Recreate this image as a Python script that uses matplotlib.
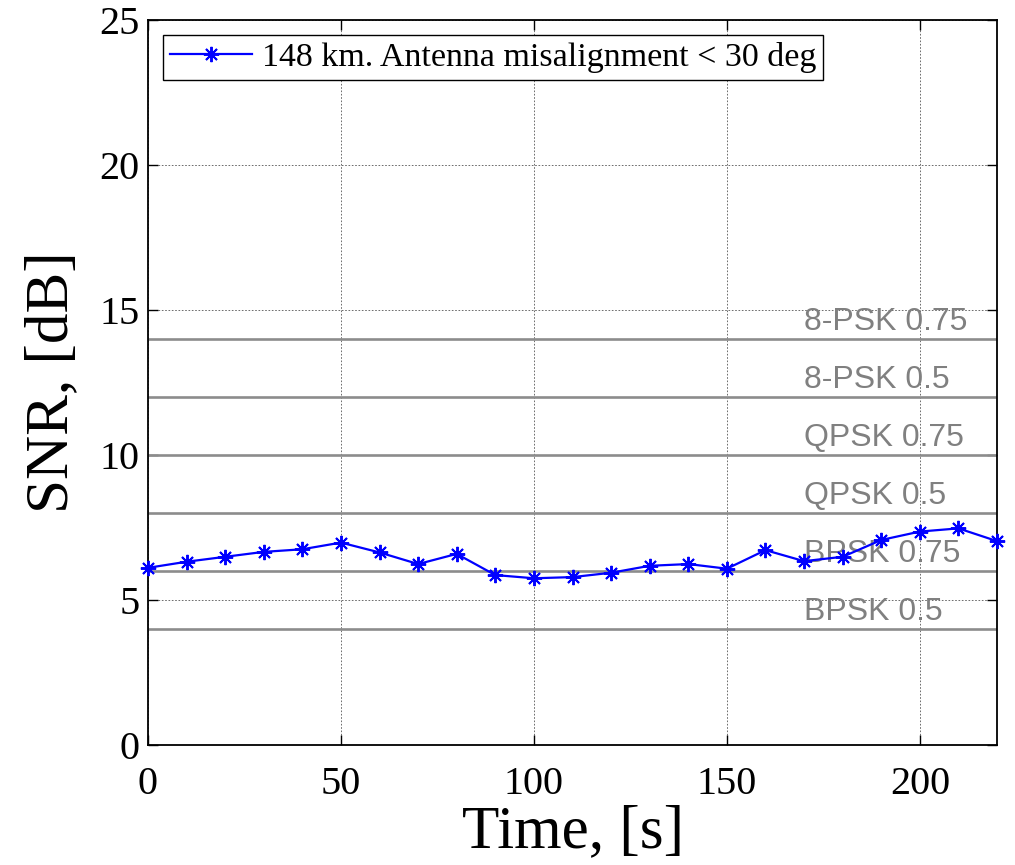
import matplotlib
matplotlib.use("Agg")
import matplotlib.pyplot as plt

# SNR measurements over time
time_s = [0, 10, 20, 30, 40, 50, 60, 70, 80, 90, 100, 110,
          120, 130, 140, 150, 160, 170, 180, 190, 200, 210, 220]
snr_db = [6.11, 6.32, 6.49, 6.66, 6.75, 6.98, 6.64, 6.24, 6.59, 5.86, 5.75, 5.79,
          5.94, 6.18, 6.24, 6.08, 6.72, 6.34, 6.49, 7.07, 7.36, 7.47, 7.03]

# Modulation/coding thresholds
mod_names = ["BPSK 0.5", "BPSK 0.75", "QPSK 0.5", "QPSK 0.75", "8-PSK 0.5", "8-PSK 0.75"]
mod_thresholds = [4, 6, 8, 10, 12, 14]

series_label = "148 km. Antenna misalignment < 30 deg"

serif = ["Liberation Serif", "DejaVu Serif"]

fig = plt.figure(figsize=(10.15, 8.65), dpi=100)
ax = fig.add_axes([0.1458, 0.1387, 0.8365, 0.8382])

for name, thr in zip(mod_names, mod_thresholds):
    ax.axhline(thr, color="#8c8c8c", linewidth=1.9, zorder=2)
    ax.text(170, thr + 0.32, name, color="#808080", fontsize=23,
            family=["Liberation Sans", "DejaVu Sans"], ha="left", va="baseline", zorder=3)

# asterisk marker: 8 spokes
ax.plot(time_s, snr_db, color="#0000ff", linewidth=1.6, marker=(8, 2, 0),
        markersize=11, markeredgewidth=1.4, label=series_label, zorder=4, clip_on=False)

ax.set_xlim(0, 220)
ax.set_ylim(0, 25)
ax.set_xticks([0, 50, 100, 150, 200])
ax.set_yticks([0, 5, 10, 15, 20, 25])

ax.grid(True, color="#555555", linestyle=(0, (2, 2)), linewidth=0.6, zorder=1)
ax.tick_params(direction="in", top=True, right=True, length=7, width=1,
               labelsize=29)
ax.tick_params(axis="x", pad=15)
ax.tick_params(axis="y", pad=6)
for lbl in ax.get_xticklabels() + ax.get_yticklabels():
    lbl.set_family(serif)
for sp in ax.spines.values():
    sp.set_linewidth(1.3)

ax.set_xlabel("Time, [s]", fontsize=44, family=serif, labelpad=1)
ax.set_ylabel("SNR, [dB]", fontsize=44, family=serif, labelpad=14)

leg = ax.legend(loc="upper left", prop={"family": serif, "size": 24.5},
                fancybox=False, framealpha=1, edgecolor="black",
                handlelength=2.4, borderpad=0.2, borderaxespad=0.45,
                handletextpad=0.3)
leg.get_frame().set_linewidth(1.0)

fig.savefig("out.png", dpi=100)
